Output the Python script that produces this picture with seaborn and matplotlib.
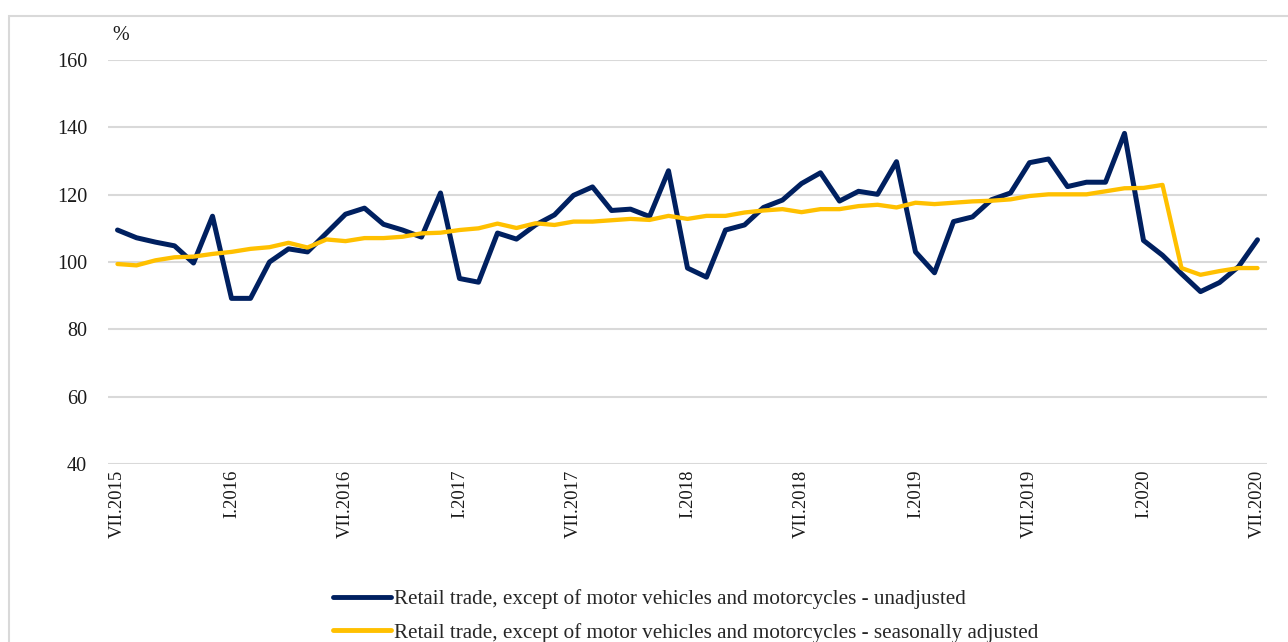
import matplotlib
matplotlib.use("Agg")
import matplotlib.pyplot as plt
import matplotlib.patches as mpatches
import seaborn as sns
import pandas as pd
import numpy as np

# ---- data ----
months = ["VII.2015", "VIII.2015", "IX.2015", "X.2015", "XI.2015", "XII.2015"]
for yr in range(2016, 2020):
    months += [f"{m}.{yr}" for m in ["I", "II", "III", "IV", "V", "VI", "VII", "VIII", "IX", "X", "XI", "XII"]]
months += ["I.2020", "II.2020", "III.2020", "IV.2020", "V.2020", "VI.2020", "VII.2020"]

unadjusted = [
    109.5, 107.2, 105.9, 104.8, 99.7, 113.6,
    89.2, 89.2, 100.0, 103.9, 103.0, 108.6, 114.2, 116.0, 111.2, 109.5, 107.4, 120.5,
    95.1, 94.0, 108.6, 106.8, 111.0, 114.0, 119.8, 122.3, 115.3, 115.7, 113.5, 127.1,
    98.2, 95.5, 109.5, 111.0, 116.2, 118.4, 123.3, 126.5, 118.1, 121.0, 120.1, 129.8,
    103.0, 96.8, 112.0, 113.4, 118.5, 120.5, 129.5, 130.6, 122.4, 123.7, 123.7, 138.2,
    106.4, 102.0, 96.5, 91.2, 93.9, 98.6, 106.6,
]
seasonally_adjusted = [
    99.4, 99.0, 100.5, 101.4, 101.6, 102.4,
    103.0, 103.9, 104.4, 105.7, 104.3, 106.7, 106.2, 107.1, 107.1, 107.5, 108.5, 108.7,
    109.5, 110.0, 111.4, 110.1, 111.5, 111.0, 112.0, 112.0, 112.4, 112.8, 112.5, 113.7,
    112.8, 113.7, 113.7, 114.7, 115.3, 115.7, 114.8, 115.7, 115.7, 116.6, 117.0, 116.2,
    117.6, 117.2, 117.6, 118.0, 118.2, 118.6, 119.6, 120.1, 120.1, 120.1, 121.0, 121.9,
    122.0, 122.9, 98.2, 96.2, 97.3, 98.2, 98.2,
]
tick_labels = ["VII.2015", "I.2016", "VII.2016", "I.2017", "VII.2017", "I.2018",
               "VII.2018", "I.2019", "VII.2019", "I.2020", "VII.2020"]
y_ticks = [40, 60, 80, 100, 120, 140, 160]
series_names = [
    "Retail trade, except of motor vehicles and motorcycles - unadjusted",
    "Retail trade, except of motor vehicles and motorcycles - seasonally adjusted",
]

# ---- style ----
sns.set_theme(style="white")
plt.rcParams["font.family"] = ["Liberation Serif", "DejaVu Serif"]

NAVY = "#002060"
GOLD = "#FFC000"

idx = np.arange(len(months))
df = pd.DataFrame({
    "idx": np.concatenate([idx, idx]),
    "value": unadjusted + seasonally_adjusted,
    "series": [series_names[0]] * len(months) + [series_names[1]] * len(months),
})

fig = plt.figure(figsize=(12.88, 6.42), dpi=100)
ax = fig.add_axes([108 / 1288, 1 - 464 / 642, (1267 - 108) / 1288, (464 - 60) / 642])

sns.lineplot(data=df, x="idx", y="value", hue="series", size="series",
             sizes={series_names[0]: 3.6, series_names[1]: 3.1},
             palette=[NAVY, GOLD], ax=ax, legend=False, sort=False)

ax.set_xlim(-0.5, len(months) - 0.5)
ax.set_ylim(40, 160)
ax.set_yticks(y_ticks)
ax.set_yticklabels([str(v) for v in y_ticks], fontsize=14.5, color="#1a1a1a")
tick_pos = [months.index(t) for t in tick_labels]
ax.set_xticks(tick_pos)
ax.set_xticklabels(tick_labels, rotation=90, fontsize=13.5, color="#1a1a1a",
                   va="top", ha="center")
ax.tick_params(axis="y", length=0, pad=15)
ax.tick_params(axis="x", length=0, pad=4)
ax.set_xlabel("")
ax.set_ylabel("")
ax.yaxis.grid(True, color="#d9d9d9", linewidth=1.5)
ax.xaxis.grid(False)
ax.set_axisbelow(True)
for s in ax.spines.values():
    s.set_visible(False)

ax.text(112 / 1288, 1 - 35 / 642, "%", transform=fig.transFigure,
        fontsize=14.5, color="#1a1a1a", va="center", ha="left")

handles = [plt.Line2D([], [], color=NAVY, linewidth=3.5),
           plt.Line2D([], [], color=GOLD, linewidth=3.5)]
fig.legend(handles, series_names, loc="center left",
           bbox_to_anchor=(333 / 1288, 1 - 616 / 642), frameon=False,
           fontsize=15.2, handlelength=2.75, handletextpad=0.12,
           labelspacing=0.66, borderpad=0, borderaxespad=0)

# outer chart border
fig.patches.append(mpatches.Rectangle((8.5 / 1288, -0.2), 1.5, 1.2 - 15.5 / 642,
                                      transform=fig.transFigure, fill=False,
                                      edgecolor="#d9d9d9", linewidth=1.5))

fig.savefig("out.png", dpi=100)
